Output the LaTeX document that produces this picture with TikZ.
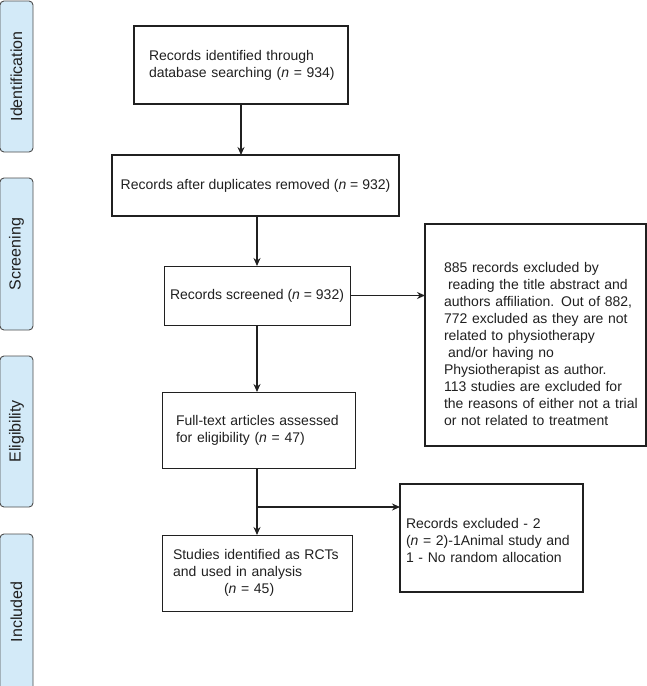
\documentclass[tikz,border=0pt]{standalone}
\usepackage{fontspec}
\setmainfont{Liberation Sans}
\usetikzlibrary{arrows.meta}
\definecolor{sideblue}{HTML}{D3EAF8}
\definecolor{ink}{HTML}{202020}
\newcommand{\myline}[1]{\mbox{#1}}
\begin{document}
\begin{tikzpicture}[x=1pt,y=-1pt,
  font=\fontsize{14}{17}\selectfont, text=ink,
  box/.style={draw=ink, line width=0.9pt, inner sep=0pt, outer sep=0pt},
  thick box/.style={box, line width=1.4pt},
  side/.style={draw=ink!80, fill=sideblue, rounded corners=4pt, line width=0.9pt,
    minimum width=33pt, inner sep=0pt, rotate=90, font=\fontsize{16}{18}\selectfont},
  arr/.style={draw=ink, line width=1.3pt, -{Stealth[length=8pt,width=7pt]}}]
\useasboundingbox (0,0) rectangle (646,686);
% side labels
\node[side, minimum height=33pt, minimum width=151pt] (s1) at (16.5,76.5) {Identification};
\node[side, minimum height=33pt, minimum width=152pt] (s2) at (16.5,254) {Screening};
\node[side, minimum height=33pt, minimum width=151pt] (s3) at (16.5,431.5) {Eligibility};
\node[side, minimum height=33pt, minimum width=156pt] (s4) at (16.5,612) {Included};
% main boxes
\node[thick box, minimum width=214pt, minimum height=78pt, text width=184pt, align=left] (b1) at (241,65)
  {\myline{Records identified through}\\\myline{database searching (\textit{n} = 934)}};
\node[thick box, minimum width=287pt, minimum height=61pt] (b2) at (255.5,185.5)
  {Records after duplicates removed (\textit{n} = 932)};
\node[box, minimum width=186pt, minimum height=59pt] (b3) at (257,295.5)
  {Records screened (\textit{n} = 932)};
\node[thick box, minimum width=221pt, minimum height=222pt, text width=183pt, align=left] (e1) at (535.5,335)
  {\rule{0pt}{28pt}\myline{885 records excluded by}\\
   \myline{\hspace*{4pt}reading the title abstract and}\\
   \myline{authors affiliation. Out of 882,}\\
   \myline{772 excluded as they are not}\\
   \myline{related to physiotherapy}\\
   \myline{\hspace*{4pt}and/or having no}\\
   \myline{Physiotherapist as author.}\\
   \myline{113 studies are excluded for}\\
   \myline{the reasons of either not a trial}\\
   \myline{or not related to treatment}};
\node[box, minimum width=193pt, minimum height=76pt, text width=165pt, align=left] (b4) at (258.5,430)
  {\myline{Full-text articles assessed}\\\myline{for eligibility (\textit{n} = 47)}};
\node[box, minimum width=190pt, minimum height=76pt, text width=168pt, align=left] (b5) at (257,573)
  {\myline{Studies identified as RCTs}\\\myline{and used in analysis}\\\myline{\hspace*{51pt}(\textit{n} = 45)}};
\node[thick box, minimum width=183pt, minimum height=108pt, text width=171pt, align=left] (e2) at (491.5,538)
  {\rule{0pt}{16pt}\myline{Records excluded - 2}\\\myline{(\textit{n} = 2)-1Animal study and}\\\myline{1 - No random allocation}};
% connectors
\coordinate (br) at (257,507);
\draw[arr] (b1.south) -- (b1.south |- b2.north);
\draw[arr] (b3.north |- b2.south) -- (b3.north);
\draw[arr] (b3.east) -- (b3.east -| e1.west);
\draw[arr] (b3.south) -- (b3.south |- b4.north);
\draw[arr] (b5.north |- b4.south) -- (b5.north);
\draw[arr] (br) -- (br -| e2.west);
\end{tikzpicture}
\end{document}
